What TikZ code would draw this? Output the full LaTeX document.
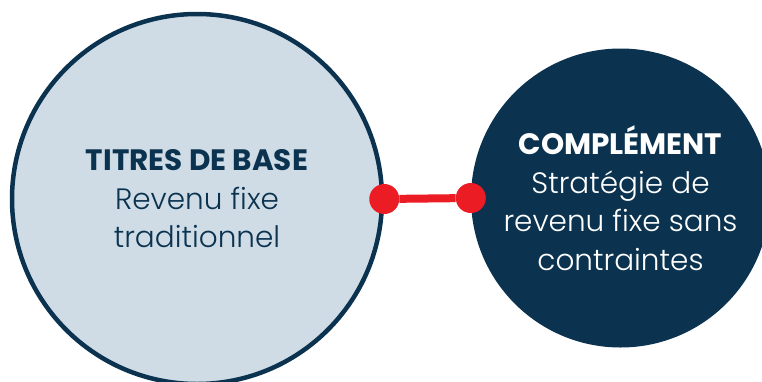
\documentclass[tikz,border=0pt]{standalone}
\usepackage{fontspec}
\setmainfont{Poppins Light}[BoldFont=Poppins Bold]
\usetikzlibrary{positioning}
\definecolor{navy}{HTML}{0B3350}
\definecolor{paleblue}{HTML}{CFDCE6}
\definecolor{pinred}{HTML}{EC1C24}
\tikzset{
  bubble/.style={circle, align=center, inner sep=0pt, font={\fontsize{29.5}{38.5}\selectfont}},
  pin/.style={circle, fill=pinred, minimum size=30pt, inner sep=0pt},
}

\begin{document}
\begin{tikzpicture}[x=1pt,y=-1pt]
  \useasboundingbox (0,0) rectangle (762,381);
  \node[bubble, fill=paleblue, draw=navy, line width=4.5pt, minimum size=370pt, text=navy] (base) at (197,199)
    {{\bfseries TITRES DE BASE}\\Revenu fixe\\traditionnel};
  \node[bubble, fill=navy, text=white, minimum size=299pt] (compl) at (620.5,198)
    {{\bfseries COMPLÉMENT}\\Stratégie de\\revenu fixe sans\\contraintes};
  \node[pin] (pinL) at (base.east) {};
  \node[pin] (pinR) at (compl.west) {};
  \draw[pinred, line width=8pt] (pinL) -- (pinR);
\end{tikzpicture}
\end{document}
